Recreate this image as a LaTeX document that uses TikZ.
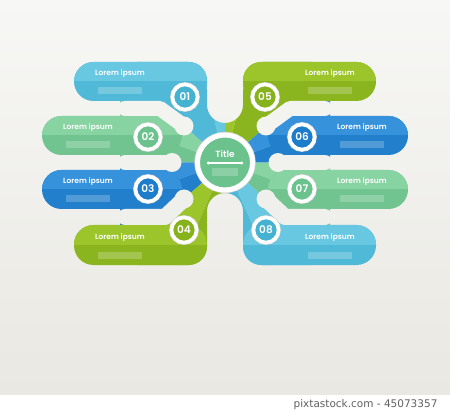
\documentclass[tikz,border=0pt]{standalone}
\usepackage{fontspec}
\setmainfont{Poppins}
\newfontfamily\semifont{Poppins SemiBold}
\newfontfamily\footfont{DejaVu Sans}
\usetikzlibrary{arrows.meta}

\definecolor{lbA}{HTML}{68C8E1}
\definecolor{lbB}{HTML}{50B9D7}
\definecolor{lbC}{HTML}{45B2D2}
\definecolor{grA}{HTML}{88D3A2}
\definecolor{grB}{HTML}{71C48F}
\definecolor{grC}{HTML}{6CC28D}
\definecolor{blA}{HTML}{3592DB}
\definecolor{blB}{HTML}{217FCB}
\definecolor{blC}{HTML}{1E7DCB}
\definecolor{liA}{HTML}{9CC52B}
\definecolor{liB}{HTML}{8AB51E}
\definecolor{liC}{HTML}{86B31B}
\definecolor{bgtop}{HTML}{F7F7F5}
\definecolor{bgbot}{HTML}{E9E8E2}
\definecolor{fgA}{HTML}{F3F3F0}
\definecolor{fgB}{HTML}{F1F1ED}
\definecolor{fgC}{HTML}{EFEFEB}

\tikzset{
  bar/.style 2 args={fill=#1, rounded corners=19.5pt,
    path picture={\fill[#2, sharp corners] (path picture bounding box.west) rectangle (path picture bounding box.north east);}},
  fingerline/.style={draw=#1, line width=15pt, line cap=round, line join=round},
  lbl/.style={text=white, font=\semifont\fontsize{7.5}{9}\selectfont},
  ph/.style={white, opacity=.22},
  num/.style={circle, minimum size=25pt, inner sep=0pt, draw=white, line width=3.6pt,
    preaction={draw=black!17, line width=4.8pt}, text=white, font=\semifont\fontsize{10.5}{11}\selectfont}
}

\begin{document}
\begin{tikzpicture}[x=1pt,y=1pt]
    \useasboundingbox (0,0) rectangle (450,413);
    \shade[top color=bgtop, bottom color=bgbot] (0,18) rectangle (450,413);
    \fill[white] (0,0) rectangle (450,18);

    % streams through the middle
    \begin{scope}
        \clip[rounded corners=18pt] (120,148) -- (120,351) -- (207,351) -- (207,290) -- (243,290) -- (243,351) -- (330,351)
            -- (330,148) -- (243,148) -- (243,220) -- (207,220) -- (207,148) -- cycle;
        \begin{scope}[shift={(225,250.5)}]
            \fill[lbA] (0,0) -- (90:260) -- (104:260) -- cycle;
            \fill[lbB] (0,0) -- (104:260) -- (138.3:260) -- cycle;
            \fill[grA] (0,0) -- (138.3:260) -- (160:260) -- cycle;
            \fill[grB] (0,0) -- (160:260) -- (180:260) -- cycle;
            \fill[blA] (0,0) -- (180:260) -- (200:260) -- cycle;
            \fill[blB] (0,0) -- (200:260) -- (221.7:260) -- cycle;
            \fill[liA] (0,0) -- (221.7:260) -- (246:260) -- cycle;
            \fill[liB] (0,0) -- (246:260) -- (270:260) -- cycle;
            \fill[lbB] (0,0) -- (270:260) -- (294:260) -- cycle;
            \fill[lbA] (0,0) -- (294:260) -- (318.3:260) -- cycle;
            \fill[grB] (0,0) -- (318.3:260) -- (340:260) -- cycle;
            \fill[grA] (0,0) -- (340:260) -- (360:260) -- cycle;
            \fill[blB] (0,0) -- (0:260) -- (20:260) -- cycle;
            \fill[blA] (0,0) -- (20:260) -- (41.7:260) -- cycle;
            \fill[liB] (0,0) -- (41.7:260) -- (76:260) -- cycle;
            \fill[liA] (0,0) -- (76:260) -- (90:260) -- cycle;
        \end{scope}
    \end{scope}

    % bars
    \fill[bar={lbB}{lbA}] (74,312) rectangle (207,351);
    \fill[bar={grB}{grA}] (42,258) rectangle (182,297);
    \fill[bar={blB}{blA}] (42,204) rectangle (182,243);
    \fill[bar={liB}{liA}] (74,148) rectangle (207,188);
    \fill[bar={liB}{liA}] (243,312) rectangle (376,351);
    \fill[bar={blB}{blA}] (268,258) rectangle (408,297);
    \fill[bar={grB}{grA}] (268,204) rectangle (408,243);
    \fill[bar={lbB}{lbA}] (243,148) rectangle (376,188);

    % gaps between the bars
    \draw[fingerline=fgA] (125,304.5) -- (160,304.5) -- (184,287);
    \fill[fgA] (184,287) circle[radius=9.5];
    \draw[fingerline=fgB] (125,250.5) -- (172,250.5);
    \fill[fgB] (172,250.5) circle[radius=9.5];
    \draw[fingerline=fgC, line width=16pt] (125,196) -- (165,196) -- (184,214);
    \fill[fgC] (184,214) circle[radius=9.5];
    \draw[fingerline=fgA] (325,304.5) -- (290,304.5) -- (266,287);
    \fill[fgA] (266,287) circle[radius=9.5];
    \draw[fingerline=fgB] (325,250.5) -- (278,250.5);
    \fill[fgB] (278,250.5) circle[radius=9.5];
    \draw[fingerline=fgC, line width=16pt] (325,196) -- (285,196) -- (266,214);
    \fill[fgC] (266,214) circle[radius=9.5];

    % texts
    \node[lbl] (t1) at (120,339) {Lorem ipsum};
    \node[lbl] (t2) at (88,285) {Lorem ipsum};
    \node[lbl] (t3) at (88,231) {Lorem ipsum};
    \node[lbl] (t4) at (120,175) {Lorem ipsum};
    \node[lbl] (t5) at (330,339) {Lorem ipsum};
    \node[lbl] (t6) at (362,285) {Lorem ipsum};
    \node[lbl] (t7) at (362,231) {Lorem ipsum};
    \node[lbl] (t8) at (330,175) {Lorem ipsum};

    \fill[ph] (98,318.5) rectangle (142,325.5);
    \fill[ph] (66,264.5) rectangle (110,271.5);
    \fill[ph] (66,210.5) rectangle (110,217.5);
    \fill[ph] (98,154.5) rectangle (142,161.5);
    \fill[ph] (308,318.5) rectangle (352,325.5);
    \fill[ph] (340,264.5) rectangle (384,271.5);
    \fill[ph] (340,210.5) rectangle (384,217.5);
    \fill[ph] (308,154.5) rectangle (352,161.5);

    % numbers
    \node[num, fill=lbC] (n1) at (185,316) {01};
    \node[num, fill=grC] (n2) at (148,276) {02};
    \node[num, fill=blC] (n3) at (148,224) {03};
    \node[num, fill=liC] (n4) at (184,183) {04};
    \node[num, fill=liC] (n5) at (265,316) {05};
    \node[num, fill=blC] (n6) at (302,276) {06};
    \node[num, fill=grC] (n7) at (302,224) {07};
    \node[num, fill=lbC] (n8) at (266,183) {08};

    % middle
    \node[circle, minimum size=55pt, inner sep=0pt, fill=grC, draw=white, line width=5pt,
        preaction={draw=black!17, line width=6.4pt}] (hub) at (225,250.5) {};
    \node[text=white, font=\semifont\fontsize{9}{10}\selectfont] (hubt) at (225,259) {Title};
    \draw[white, line width=1.3pt, {Circle[length=2.6pt]}-{Circle[length=2.6pt]}]
        ([shift={(-18,-0.5)}]hub.center) -- ([shift={(18,-0.5)}]hub.center);
    \fill[ph] (212,237) rectangle (238,245);

    \node[anchor=east, text=black!62, font=\footfont\fontsize{10.5}{12}\selectfont] (src) at (441,8) {pixtastock.com - 45073357};
\end{tikzpicture}
\end{document}
